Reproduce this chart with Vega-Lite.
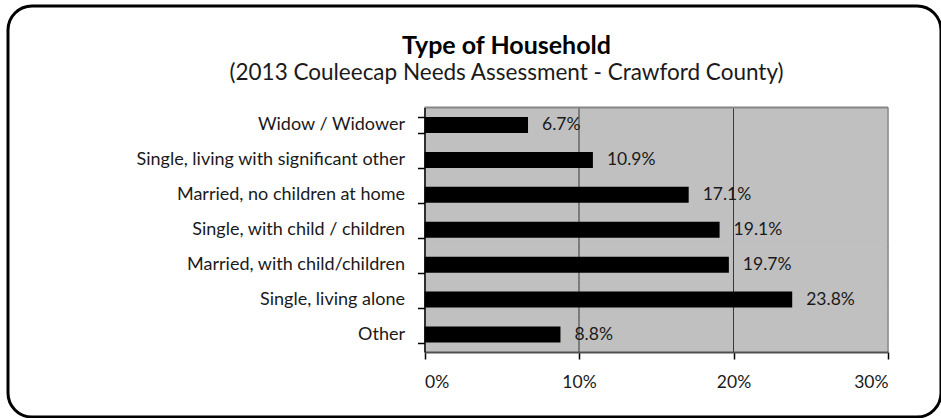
{
  "$schema": "https://vega.github.io/schema/vega-lite/v6.json",
  "width": 933,
  "height": 411,
  "autosize": {"type": "none"},
  "padding": {"left": 8, "top": 6, "right": 0, "bottom": 1},
  "background": "white",
  "config": {
    "view": {"stroke": "black", "strokeWidth": 3, "cornerRadius": 24, "fill": "white"},
    "font": "Lato"
  },
  "title": {
    "text": "Type of Household",
    "subtitle": "(2013 Couleecap Needs Assessment - Crawford County)",
    "anchor": "middle",
    "frame": "group",
    "offset": -87,
    "dx": 32,
    "font": "Lato",
    "fontSize": 25,
    "fontWeight": "bold",
    "color": "black",
    "subtitleFont": "Lato",
    "subtitleFontSize": 22.5,
    "subtitleColor": "#1a1a1a",
    "subtitlePadding": 3
  },
  "data": {
    "values": [
      {"type": "Widow / Widower", "pct": 0.067},
      {"type": "Single, living with significant other", "pct": 0.109},
      {"type": "Married, no children at home", "pct": 0.171},
      {"type": "Single, with child / children", "pct": 0.191},
      {"type": "Married, with child/children", "pct": 0.197},
      {"type": "Single, living alone", "pct": 0.238},
      {"type": "Other", "pct": 0.088}
    ]
  },
  "encoding": {
    "y": {
      "field": "type",
      "type": "nominal",
      "sort": null,
      "title": null,
      "scale": {"range": [101.5, 346], "paddingInner": 0.542, "paddingOuter": 0.271},
      "axis": {
        "orient": "left",
        "offset": -416.5,
        "title": null,
        "domainColor": "black",
        "domainWidth": 1.5,
        "tickColor": "black",
        "tickWidth": 1.5,
        "tickSize": 7,
        "tickBand": "extent",
        "labelPadding": 13,
        "labelFont": "Lato",
        "labelFontSize": 18,
        "labelColor": "#1a1a1a",
        "labelLimit": 600,
        "grid": false,
        "zindex": 1
      }
    }
  },
  "layer": [
    {
      "mark": {"type": "bar", "color": "#c0c0c0", "stroke": "#c0c0c0", "strokeWidth": 1, "height": {"band": 2.19}},
      "encoding": {
        "x": {"datum": 0, "type": "quantitative", "title": null},
        "x2": {"datum": 0.3}
      }
    },
    {
      "mark": {"type": "tick", "color": "black", "thickness": 1, "size": 35.2, "orient": "vertical"},
      "encoding": {"x": {"datum": 0.1, "type": "quantitative", "title": null}}
    },
    {
      "mark": {"type": "tick", "color": "black", "thickness": 1, "size": 35.2, "orient": "vertical"},
      "encoding": {"x": {"datum": 0.2, "type": "quantitative", "title": null}}
    },
    {
      "mark": {"type": "tick", "color": "#868686", "thickness": 2, "size": 35.2, "orient": "vertical"},
      "encoding": {"x": {"datum": 0.3, "type": "quantitative", "title": null}}
    },
    {
      "transform": [{"filter": "datum.type === 'Widow / Widower'"}],
      "mark": {"type": "rule", "color": "#868686", "strokeWidth": 2, "yOffset": -17.47},
      "encoding": {
        "x": {"datum": 0, "type": "quantitative", "title": null},
        "x2": {"datum": 0.3}
      }
    },
    {
      "mark": {"type": "bar", "color": "black"},
      "encoding": {
        "x": {
          "field": "pct",
          "type": "quantitative",
          "title": null,
          "scale": {"domain": [0, 0.3], "range": [416.5, 880], "nice": false, "zero": false},
          "axis": {
            "orient": "bottom",
            "offset": -65,
            "title": null,
            "values": [0, 0.1, 0.2, 0.3],
            "format": ".0%",
            "domainColor": "#505050",
            "domainWidth": 2,
            "tickColor": "black",
            "tickWidth": 1.5,
            "tickSize": 7,
            "labelPadding": 14,
            "labelFont": "Lato",
            "labelFontSize": 17.5,
            "labelColor": "#1a1a1a",
            "grid": false,
            "zindex": 1
          }
        }
      }
    },
    {
      "mark": {"type": "text", "align": "left", "baseline": "middle", "dx": 14, "fontSize": 17.5, "font": "Lato", "color": "#1a1a1a"},
      "encoding": {
        "x": {"field": "pct", "type": "quantitative", "title": null},
        "text": {"field": "pct", "type": "quantitative", "format": ".1%"}
      }
    }
  ]
}
